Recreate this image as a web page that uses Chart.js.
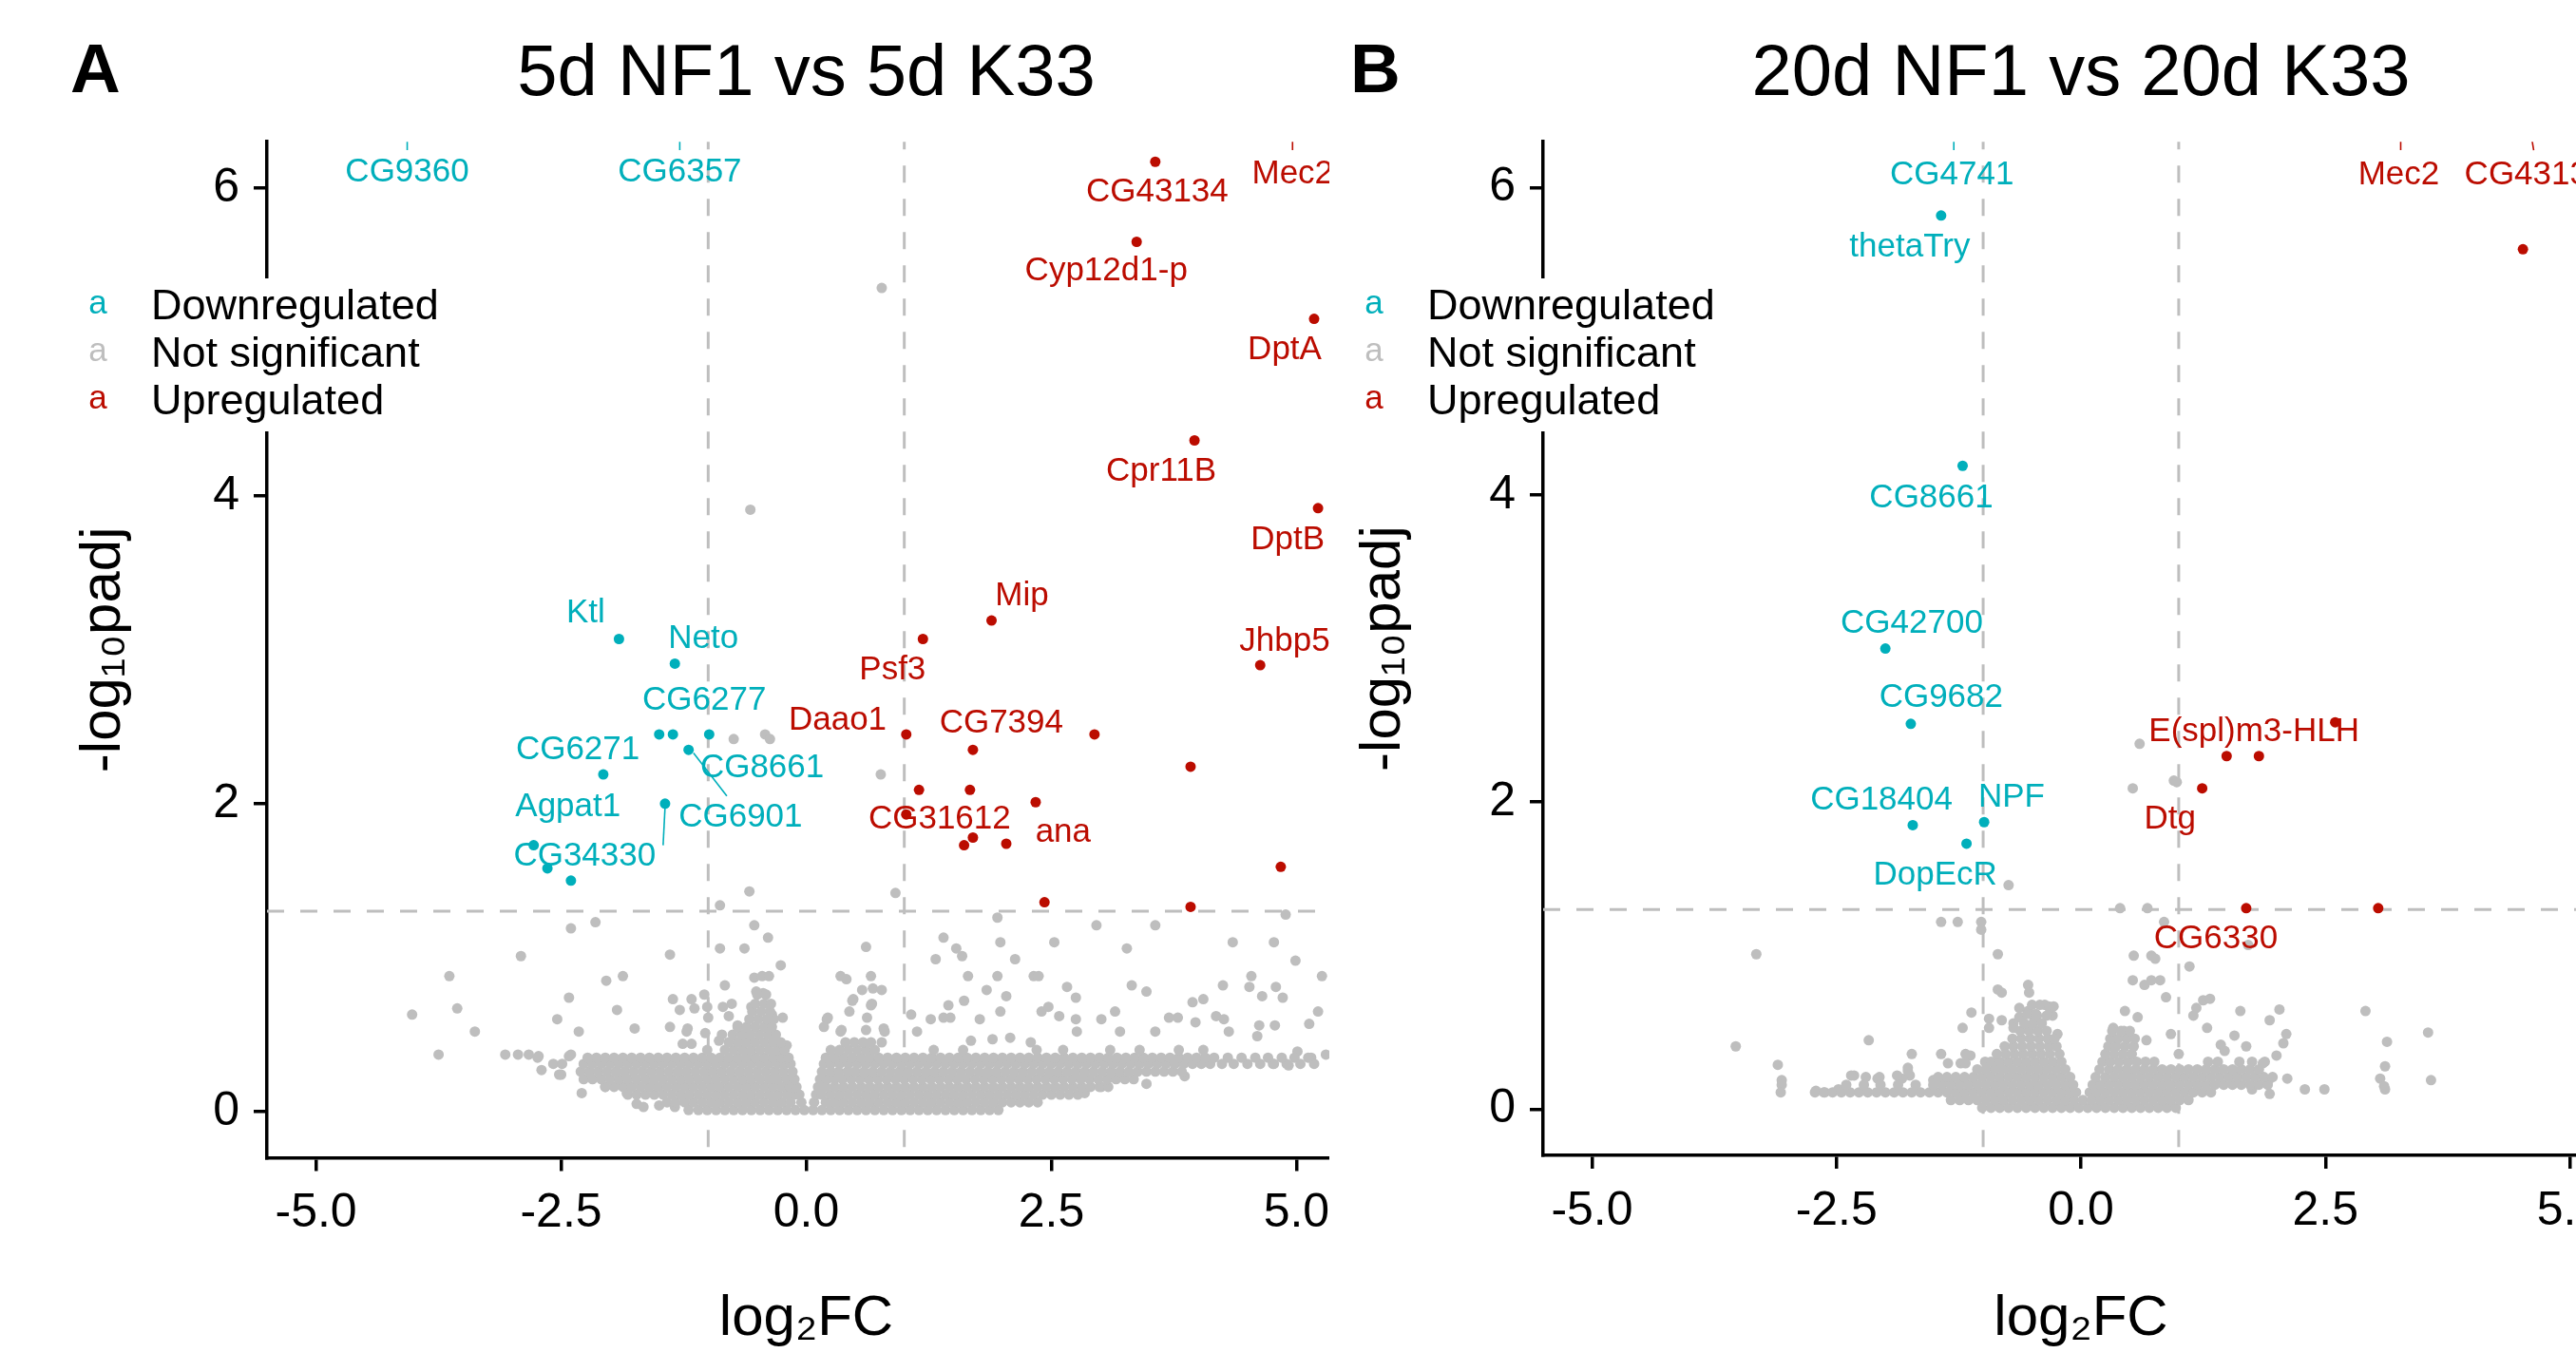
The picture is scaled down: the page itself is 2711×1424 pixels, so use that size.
<!DOCTYPE html>
<html><head><meta charset="utf-8">
<script src="https://cdn.jsdelivr.net/npm/chart.js@4.4.1/dist/chart.umd.min.js"></script>
<style>
html,body{margin:0;padding:0;background:#fff;}
body{width:2711px;height:1424px;position:relative;overflow:hidden;}
.panel{position:absolute;top:0;height:1424px;overflow:hidden;}
#wa{left:0;width:1399px;}
#wb{left:1399px;width:1312px;}
canvas{display:block;}
</style></head><body>
<div class="panel" id="wa"><canvas id="ca" width="1445" height="1424" style="width:1445px;height:1424px"></canvas></div>
<div class="panel" id="wb"><canvas id="cb" width="1390" height="1424" style="width:1390px;height:1424px"></canvas></div>
<script>
// ---------- shared axis / category data ----------
const categories = ['Downregulated', 'Not significant', 'Upregulated'];
const xTickValues = [-5, -2.5, 0, 2.5, 5];
const xTickLabels = ['-5.0', '-2.5', '0.0', '2.5', '5.0'];
const yTickValues = [0, 2, 4, 6];
const yTickLabels = ['0', '2', '4', '6'];
const fcCutoffs = [-1, 1];
const padjCutoff = 1.30103;

// ---------- panel A : 5d NF1 vs 5d K33 ----------
const aDown = [[-1.91,3.07],[-1.34,2.91],[-1.50,2.45],[-1.36,2.45],[-0.99,2.45],[-1.20,2.35],[-2.07,2.19],[-1.44,2.00],[-2.78,1.73],[-2.64,1.58],[-2.40,1.50]];
const aUp = [[3.56,6.17],[3.37,5.65],[5.18,5.15],[3.96,4.36],[5.22,3.92],[1.89,3.19],[1.19,3.07],[4.63,2.90],[1.02,2.45],[1.70,2.35],[2.94,2.45],[3.92,2.24],[1.15,2.09],[1.67,2.09],[2.34,2.01],[1.02,1.93],[1.70,1.78],[1.61,1.73],[2.04,1.74],[4.84,1.59],[2.43,1.36],[3.92,1.33]];
const aNsScatter = [[0.77,5.35],[-0.57,3.91],[-0.74,2.42],[-0.42,2.45],[-0.37,2.42],[0.76,2.19],[0.91,1.42],[-0.58,1.43],[-0.88,1.34],
[-2.40,1.19],[-2.15,1.23],[-0.53,1.21],[-0.39,1.13],[-2.91,1.01],[-1.39,1.02],[-0.88,1.06],[-0.63,1.06],[-0.26,0.95],[-3.64,0.88],[-1.87,0.88],[-2.04,0.85],[-0.83,0.82],[-0.53,0.87],[-0.45,0.88],[-0.38,0.88],[-2.42,0.74],[-3.56,0.67],[-1.93,0.66],[-4.02,0.63],[-2.54,0.60],[-1.36,0.73],[-1.17,0.73],[-1.04,0.76],[-1.01,0.68],[-0.85,0.68],[-0.76,0.70],[-3.38,0.52],[-2.32,0.52],[-1.75,0.54],[-1.39,0.55],[-1.21,0.54],[-1.29,0.66],[-3.75,0.37],[-3.07,0.37],[-2.94,0.37],[-2.83,0.37],[-2.73,0.36],[-2.40,0.37],[-2.70,0.27],[-2.58,0.31],[-2.49,0.31],[-2.50,0.24],[-2.29,0.12],[-1.73,0.05],[-1.50,0.04],[-0.56,0.68],[-0.35,0.63],[-0.24,0.61],[-0.20,0.43],[-0.51,0.78],[-0.44,0.77],
[-1.14,0.67],[-1.22,0.52],[-1.03,0.51],[-1.00,0.61],[-1.26,0.44],[-1.17,0.44],[-0.89,0.46],[-0.79,0.62],[-0.70,0.56],[-0.86,0.50],[-1.83,0.12],[-2.05,0.16],[-1.34,0.03],[-1.20,0.01],[-1.66,0.03],[-2.74,0.35],[-2.42,0.36],[-2.52,0.24],
[1.95,1.26],[2.96,1.21],[3.56,1.21],[4.89,1.28],[1.40,1.13],[0.61,1.07],[1.53,1.06],[1.59,1.01],[1.32,0.99],[1.98,1.10],[2.13,0.99],[2.53,1.10],[3.27,1.06],[4.35,1.10],[4.77,1.10],[4.99,0.98],[0.35,0.88],[0.41,0.86],[0.66,0.88],[1.65,0.88],[1.95,0.88],[2.32,0.88],[2.37,0.88],[4.54,0.88],[5.26,0.88],[0.48,0.73],[0.57,0.79],[0.68,0.80],[0.77,0.79],[1.84,0.79],[2.04,0.75],[1.61,0.72],[1.45,0.69],[2.66,0.81],[2.75,0.74],[3.32,0.82],[3.47,0.78],[4.25,0.82],[4.52,0.81],[4.65,0.75],[4.79,0.81],[4.86,0.74],[3.94,0.71],[4.05,0.73],[0.44,0.65],[0.67,0.70],[0.22,0.61],[0.36,0.53],[0.62,0.61],[0.79,0.54],[1.07,0.63],[1.13,0.52],[1.27,0.60],[1.40,0.61],[1.47,0.61],[1.77,0.60],[1.98,0.65],[2.40,0.65],[2.47,0.68],[2.58,0.62],[2.75,0.60],[3.01,0.60],[3.15,0.65],[3.70,0.61],[3.79,0.61],[3.97,0.58],[4.18,0.62],[4.26,0.60],[4.62,0.56],[4.78,0.56],[5.13,0.57],[5.22,0.65],[3.56,0.52],[3.20,0.52],[2.76,0.52],[4.31,0.52],[4.60,0.49],[2.08,0.48],[1.68,0.46],[1.90,0.47],[2.29,0.45],[5.01,0.39],[5.15,0.35],[5.30,0.37],[4.92,0.30],[4.76,0.31],[3.86,0.23],[3.47,0.18],[2.84,0.12],[3.01,0.16],[0.47,0.72],[0.66,0.69],[0.61,0.53],[0.80,0.52],[0.77,0.45],[0.21,0.60],[0.18,0.55],[0.35,0.52]];
// dense core of non-significant genes, read row by row (y, then x positions)
const aNsCore = [
 {y:0.01, x:[-1.10,-1.01,-0.92,-0.83,-0.74,-0.65,-0.56,-0.47,-0.38,-0.29,-0.20,-0.11,-0.02,0.07,0.16,0.25,0.34,0.43,0.52,0.61,0.70,0.79,0.88,0.97,1.06,1.15,1.24,1.33,1.42,1.51,1.60,1.69,1.78,1.87,1.96]},
 {y:0.06, x:[-1.42,-1.33,-1.24,-1.15,-1.06,-0.97,-0.88,-0.79,-0.70,-0.61,-0.52,-0.43,-0.34,-0.25,-0.16,-0.05,0.08,0.20,0.29,0.38,0.47,0.56,0.65,0.74,0.83,0.92,1.01,1.10,1.19,1.28,1.37,1.46,1.55,1.64,1.73,1.82,1.91,2.00,2.09,2.18,2.27,2.36]},
 {y:0.11, x:[-1.82,-1.73,-1.64,-1.55,-1.46,-1.37,-1.28,-1.19,-1.10,-1.01,-0.92,-0.83,-0.74,-0.65,-0.56,-0.47,-0.38,-0.29,-0.20,-0.12,-0.07,0.10,0.16,0.25,0.34,0.43,0.52,0.61,0.70,0.79,0.88,0.97,1.06,1.15,1.24,1.33,1.42,1.51,1.60,1.69,1.78,1.87,1.96,2.05,2.14,2.23,2.32,2.41,2.50,2.59,2.68,2.77]},
 {y:0.16, x:[-2.05,-1.96,-1.87,-1.78,-1.69,-1.60,-1.51,-1.42,-1.33,-1.24,-1.15,-1.06,-0.97,-0.88,-0.79,-0.70,-0.61,-0.52,-0.43,-0.34,-0.25,-0.17,-0.10,0.12,0.20,0.29,0.38,0.47,0.56,0.65,0.74,0.83,0.92,1.01,1.10,1.19,1.28,1.37,1.46,1.55,1.64,1.73,1.82,1.91,2.00,2.09,2.18,2.27,2.36,2.45,2.54,2.63,2.72,2.81,2.90,2.99,3.08]},
 {y:0.21, x:[-2.27,-2.18,-2.09,-2.00,-1.91,-1.82,-1.73,-1.64,-1.55,-1.46,-1.37,-1.28,-1.19,-1.10,-1.01,-0.92,-0.83,-0.74,-0.65,-0.56,-0.47,-0.38,-0.29,-0.20,-0.12,0.14,0.21,0.29,0.37,0.46,0.55,0.64,0.73,0.82,0.91,1.00,1.09,1.18,1.27,1.36,1.45,1.54,1.63,1.72,1.81,1.90,1.99,2.08,2.17,2.26,2.35,2.44,2.53,2.62,2.71,2.80,2.89,2.98,3.07,3.16,3.25,3.34]},
 {y:0.26, x:[-2.30,-2.21,-2.12,-2.03,-1.94,-1.85,-1.76,-1.67,-1.58,-1.49,-1.40,-1.31,-1.22,-1.13,-1.04,-0.95,-0.86,-0.77,-0.68,-0.59,-0.50,-0.41,-0.32,-0.23,-0.14,0.16,0.25,0.33,0.42,0.50,0.59,0.68,0.77,0.86,0.95,1.04,1.13,1.22,1.31,1.40,1.49,1.58,1.67,1.76,1.85,1.94,2.03,2.12,2.21,2.30,2.39,2.48,2.57,2.66,2.75,2.84,2.93,3.02,3.11,3.20,3.29,3.38,3.47,3.56,3.65,3.74,3.83]},
 {y:0.31, x:[-2.27,-2.18,-2.09,-2.00,-1.91,-1.82,-1.73,-1.64,-1.55,-1.46,-1.37,-1.28,-1.19,-1.10,-1.01,-0.92,-0.83,-0.74,-0.65,-0.56,-0.47,-0.38,-0.29,-0.22,-0.16,0.18,0.25,0.34,0.43,0.52,0.61,0.70,0.79,0.88,0.97,1.06,1.15,1.24,1.33,1.42,1.51,1.60,1.69,1.78,1.87,1.96,2.05,2.14,2.23,2.32,2.41,2.50,2.59,2.68,2.77,2.86,2.95,3.04,3.13,3.22,3.31,3.40,3.49,3.58,3.67,3.76,3.85,3.94,4.03,4.12,4.24,4.36,4.50,4.63,4.77,4.90,5.04,5.18]},
 {y:0.35, x:[-2.23,-2.14,-2.05,-1.96,-1.87,-1.78,-1.69,-1.60,-1.51,-1.42,-1.33,-1.24,-1.15,-1.06,-0.97,-0.88,-0.79,-0.70,-0.61,-0.52,-0.43,-0.34,-0.26,-0.18,0.20,0.29,0.38,0.47,0.56,0.65,0.74,0.83,0.92,1.01,1.10,1.19,1.28,1.37,1.46,1.55,1.64,1.73,1.82,1.91,2.00,2.09,2.18,2.27,2.36,2.45,2.54,2.63,2.72,2.81,2.90,2.99,3.08,3.17,3.26,3.35,3.44,3.53,3.62,3.71,3.80,3.89,3.98,4.07,4.16,4.30,4.44,4.58,4.71,4.85,4.98,5.12]},
 {y:0.40, x:[-1.01,-0.83,-0.74,-0.65,-0.56,-0.47,-0.38,-0.29,-0.22,0.25,0.34,0.43,0.52,0.61,0.70,1.30,1.60,2.35,2.62,3.10,3.40,3.80,4.05]},
 {y:0.45, x:[-0.79,-0.70,-0.61,-0.52,-0.43,-0.34,-0.26,0.40,0.49,0.58,0.66]},
 {y:0.50, x:[-0.75,-0.66,-0.57,-0.48,-0.39,-0.31]},
 {y:0.55, x:[-0.70,-0.61,-0.52,-0.43,-0.35]},
 {y:0.60, x:[-0.58,-0.49,-0.40,-0.33]},
 {y:0.65, x:[-0.55,-0.46,-0.37]},
 {y:0.70, x:[-0.52,-0.43,-0.36]},
 {y:0.76, x:[-0.50,-0.41]}
];
const aLabels = [['CG9360',-4.07,6.10,'d'],['CG6357',-1.29,6.10,'d'],['CG43134',3.58,5.97,'u'],['Mec2',4.96,6.09,'u'],['Cyp12d1-p',3.06,5.46,'u'],['DptA',4.88,4.95,'u'],['Cpr11B',3.62,4.16,'u'],['DptB',4.91,3.71,'u'],['Mip',2.20,3.35,'u'],['Jhbp5',4.88,3.05,'u'],['Psf3',0.88,2.87,'u'],['Daao1',0.32,2.54,'u'],['CG7394',1.99,2.52,'u'],['CG31612',1.36,1.90,'u'],['ana',2.62,1.81,'u'],['Ktl',-2.25,3.24,'d'],['Neto',-1.05,3.07,'d'],['CG6277',-1.04,2.67,'d'],['CG6271',-2.33,2.35,'d'],['CG8661',-0.45,2.23,'d'],['Agpat1',-2.43,1.98,'d'],['CG6901',-0.67,1.91,'d'],['CG34330',-2.26,1.66,'d']];
const aSegments = [[-1.15,2.33,-0.81,2.05,'d'],[-1.44,1.98,-1.46,1.73,'d'],[-4.07,6.36,-4.07,6.245,'d'],[-1.29,6.36,-1.29,6.245,'d'],[4.96,6.36,4.96,6.245,'u']];

// ---------- panel B : 20d NF1 vs 20d K33 ----------
const bDown = [[-1.43,5.82],[-1.21,4.19],[-2.00,3.00],[-1.74,2.51],[-1.72,1.85],[-0.99,1.87],[-1.17,1.73]];
const bUp = [[4.52,5.60],[2.60,2.52],[1.49,2.30],[1.82,2.30],[1.24,2.09],[1.69,1.31],[3.04,1.31]];
const bNsScatter = [[0.60,2.38],[0.53,2.09],[0.95,2.14],[0.98,2.13],[0.40,1.31],[0.68,1.31],[0.85,1.22],[1.71,1.07],[0.54,1.00],[0.72,1.00],[0.76,0.98],[1.11,0.93],[0.53,0.84],[0.65,0.81],[0.72,0.84],[0.81,0.84],[0.87,0.73],[1.25,0.71],[1.32,0.72],[1.18,0.66],[1.15,0.61],[1.63,0.64],[2.03,0.65],[1.93,0.58],[2.91,0.64],[3.55,0.50],[3.13,0.44],[3.11,0.28],[3.06,0.20],[3.11,0.13],[3.58,0.19],[2.29,0.13],[2.49,0.13],[2.10,0.49],[2.07,0.43],[2.00,0.35],[2.11,0.20],[1.57,0.48],[1.69,0.41],[1.43,0.42],[1.47,0.38],[1.29,0.53],[0.92,0.49],[0.67,0.45],[0.45,0.64],[0.58,0.60],[0.33,0.53],[0.44,0.51],[1.86,0.30],[1.93,0.10],[-0.33,0.67],[-0.29,0.61],[-0.45,0.61],[-0.24,0.49],[1.00,0.36],
[-0.74,1.46],[-3.53,0.41],[-3.32,1.01],[-3.10,0.29],[-3.06,0.19],[-3.06,0.16],[-3.07,0.11],[-2.17,0.45],[-1.73,0.36],[-1.18,0.36],[-1.43,1.22],[-1.26,1.22],[-1.02,1.22],[-1.02,1.17],[-0.85,1.01],[-0.85,0.78],[-0.54,0.81],[-0.53,0.76],[-0.32,0.66],[-1.12,0.63],[-0.94,0.59],[-0.81,0.58],[3.10,0.15],[1.59,0.22],[1.92,0.19],[1.75,0.13],[-0.81,0.76],[-0.37,0.68],[-0.54,0.64],[-0.69,0.56],[-1.43,0.36],[-1.75,0.22],[-2.32,0.22],[-2.08,0.20],[-1.83,0.20],[-1.51,0.19],[-2.48,0.13],[-2.71,0.12],[-2.62,0.11],
[-0.63,0.66],[-0.63,0.60],[-0.49,0.61],[-0.35,0.61],[-0.28,0.67],[-1.21,0.53],[-0.94,0.53],[-0.69,0.53],[-1.77,0.27],[-1.13,0.35],[-1.36,0.30],[-1.23,0.30],[-1.18,0.30],[-0.98,0.31],[-0.86,0.30],[-2.35,0.22],[-2.20,0.21],[-2.06,0.21],[-1.88,0.22],[-1.77,0.25],[-1.37,0.20],[-1.23,0.19]];
const bNsCore = [
 {y:0.01, x:[-1.01,-0.92,-0.83,-0.74,-0.65,-0.56,-0.47,-0.38,-0.29,-0.20,-0.11,-0.02,0.07,0.16,0.25,0.34,0.43,0.52,0.61,0.70,0.79,0.88,0.97]},
 {y:0.06, x:[-1.33,-1.24,-1.15,-1.06,-0.97,-0.88,-0.79,-0.70,-0.61,-0.52,-0.43,-0.34,-0.25,-0.16,-0.07,0.02,0.11,0.20,0.29,0.38,0.47,0.56,0.65,0.74,0.83,0.92,1.01,1.10]},
 {y:0.11, x:[-2.72,-2.63,-2.54,-2.45,-2.36,-2.27,-2.18,-2.09,-2.00,-1.91,-1.82,-1.73,-1.64,-1.55,-1.46,-1.37,-1.28,-1.19,-1.10,-1.01,-0.92,-0.83,-0.74,-0.65,-0.56,-0.47,-0.38,-0.29,-0.20,-0.11,-0.05,0.09,0.16,0.25,0.34,0.43,0.52,0.61,0.70,0.79,0.88,0.97,1.06,1.15,1.24,1.33]},
 {y:0.16, x:[-2.40,-2.22,-2.05,-1.87,-1.69,-1.51,-1.42,-1.33,-1.24,-1.15,-1.06,-0.97,-0.88,-0.79,-0.70,-0.61,-0.52,-0.43,-0.34,-0.25,-0.16,-0.08,0.12,0.20,0.29,0.38,0.47,0.56,0.65,0.74,0.83,0.92,1.01,1.10,1.19,1.28,1.37,1.46,1.55,1.64,1.73,1.82,1.91]},
 {y:0.21, x:[-1.46,-1.37,-1.28,-1.19,-1.10,-1.01,-0.92,-0.83,-0.74,-0.65,-0.56,-0.47,-0.38,-0.29,-0.20,-0.11,0.15,0.25,0.34,0.43,0.52,0.61,0.70,0.79,0.88,0.97,1.06,1.15,1.24,1.33,1.42,1.51,1.60,1.69,1.78,1.87,1.96]},
 {y:0.26, x:[-1.06,-0.97,-0.88,-0.79,-0.70,-0.61,-0.52,-0.43,-0.34,-0.25,-0.16,0.19,0.29,0.38,0.47,0.56,0.65,0.74,0.83,0.92,1.01,1.10,1.19,1.28,1.37,1.46,1.55,1.64,1.73,1.82]},
 {y:0.31, x:[-0.92,-0.83,-0.74,-0.65,-0.56,-0.47,-0.38,-0.29,-0.20,0.22,0.30,0.39,0.48,0.57,0.66,0.75,1.30,1.40,1.62,1.75,1.88]},
 {y:0.36, x:[-0.86,-0.77,-0.68,-0.59,-0.50,-0.41,-0.32,-0.22,0.25,0.34,0.43,0.52]},
 {y:0.41, x:[-0.78,-0.69,-0.60,-0.51,-0.42,-0.33,-0.25,0.28,0.36,0.45,0.54]},
 {y:0.46, x:[-0.70,-0.61,-0.52,-0.43,-0.34,-0.27,0.30,0.38,0.47,0.55]},
 {y:0.51, x:[-0.62,-0.53,-0.44,-0.35,0.32,0.41,0.50]},
 {y:0.56, x:[-0.58,-0.49,-0.40]},
 {y:0.62, x:[-0.55,-0.46]},
 {y:0.68, x:[-0.50,-0.42]}
];
const bLabels = [['CG4741',-1.32,6.08,'d'],['thetaTry',-1.75,5.61,'d'],['CG8661',-1.53,3.98,'d'],['CG42700',-1.73,3.16,'d'],['CG9682',-1.43,2.68,'d'],['CG18404',-2.04,2.01,'d'],['NPF',-0.71,2.03,'d'],['DopEcR',-1.49,1.52,'d'],['E(spl)m3-HLH',1.77,2.46,'u'],['Dtg',0.91,1.89,'u'],['CG6330',1.38,1.11,'u'],['Mec2',3.25,6.08,'u'],['CG43134',4.65,6.08,'u']];
const bSegments = [[-1.30,6.36,-1.30,6.245,'d'],[3.27,6.36,3.27,6.245,'u'],[4.60,6.36,4.63,6.245,'u']];

// ---------- styling ----------
const FONT = "'Liberation Sans', Arial, Helvetica, sans-serif";
const COL = {d:'#00AFBB', n:'#BEBEBE', u:'#BB0C00'};

function toPts(arr){ return arr.map(p => ({x:p[0], y:p[1]})); }
function corePts(rows){ const out=[]; rows.forEach(r => r.x.forEach(x => out.push({x:x, y:r.y}))); return out; }

const refLines = {
  id:'refLines',
  beforeDatasetsDraw(chart){
    const {ctx, chartArea:a, scales:{x, y}} = chart;
    ctx.save();
    ctx.beginPath(); ctx.rect(a.left, a.top, a.right-a.left, a.bottom-a.top); ctx.clip();
    ctx.strokeStyle = '#BEBEBE'; ctx.lineWidth = 3; ctx.setLineDash([18,17]);
    fcCutoffs.forEach(v => { const px = x.getPixelForValue(v); ctx.beginPath(); ctx.moveTo(px, a.top-10); ctx.lineTo(px, a.bottom); ctx.stroke(); });
    const py = y.getPixelForValue(padjCutoff);
    ctx.beginPath(); ctx.moveTo(a.left, py); ctx.lineTo(a.right, py); ctx.stroke();
    ctx.restore();
  }
};

const annot = {
  id:'annot',
  afterDatasetsDraw(chart, args, o){
    const {ctx, chartArea:a, scales:{x, y}} = chart;
    ctx.save();
    ctx.beginPath(); ctx.rect(a.left, a.top, a.right-a.left, a.bottom-a.top); ctx.clip();
    ctx.lineWidth = 1.6; ctx.setLineDash([]);
    o.segments.forEach(s => { ctx.strokeStyle = COL[s[4]]; ctx.beginPath(); ctx.moveTo(x.getPixelForValue(s[0]), y.getPixelForValue(s[1])); ctx.lineTo(x.getPixelForValue(s[2]), y.getPixelForValue(s[3])); ctx.stroke(); });
    ctx.font = '35px ' + FONT; ctx.textAlign = 'center'; ctx.textBaseline = 'middle';
    o.labels.forEach(l => { ctx.fillStyle = COL[l[3]]; ctx.fillText(l[0], x.getPixelForValue(l[1]), y.getPixelForValue(l[2])); });
    ctx.restore();
  },
  afterDraw(chart, args, o){
    const {ctx, chartArea:a} = chart;
    const ax = a.left;
    ctx.save();
    ctx.fillStyle = '#fff'; ctx.fillRect(ax-195, 293, 380, 161);
    const keyCols = [COL.d, COL.n, COL.u];
    categories.forEach((c, i) => {
      ctx.textAlign = 'center'; ctx.textBaseline = 'alphabetic';
      ctx.font = '35px ' + FONT; ctx.fillStyle = keyCols[i];
      ctx.fillText('a', ax-178, 330 + 50*i);
      ctx.textAlign = 'left'; ctx.font = '45px ' + FONT; ctx.fillStyle = '#000';
      ctx.fillText(c, ax-122, 336 + 50*i);
    });
    ctx.font = 'bold 73px ' + FONT; ctx.fillStyle = '#000'; ctx.textAlign = 'left'; ctx.textBaseline = 'alphabetic';
    ctx.fillText(o.tag, o.tagX, 97);
    ctx.restore();
  }
};

function makePanel(canvasId, cfg){
  const axisCommon = {
    grid:{display:true, drawOnChartArea:false, drawTicks:true, tickLength:14, color:'#000', lineWidth:3.5},
    border:{display:true, color:'#000', width:3.5}
  };
  const pt = {pointRadius:5.5, pointBorderWidth:0, pointHoverRadius:5.5};
  return new Chart(document.getElementById(canvasId), {
    type:'scatter',
    data:{ datasets:[
      Object.assign({label:categories[0], data:toPts(cfg.down), backgroundColor:COL.d, pointBackgroundColor:COL.d}, pt),
      Object.assign({label:categories[2], data:toPts(cfg.up), backgroundColor:COL.u, pointBackgroundColor:COL.u}, pt),
      Object.assign({label:categories[1], data:toPts(cfg.ns).concat(corePts(cfg.core)), backgroundColor:COL.n, pointBackgroundColor:COL.n}, pt)
    ]},
    options:{
      responsive:false, animation:false, devicePixelRatio:1, events:[],
      layout:{padding:{left:0, right:cfg.rightPad, top:0, bottom:0}},
      plugins:{
        legend:{display:false}, tooltip:{enabled:false},
        title:{display:true, text:cfg.title, fullSize:false, color:'#000', font:{family:FONT, size:76, weight:'normal'}, padding:{top:33, bottom:25}},
        annot:{labels:cfg.labels, segments:cfg.segments, tag:cfg.tag, tagX:cfg.tagX}
      },
      scales:{
        x:Object.assign({}, axisCommon, {
          type:'linear', min:-5.5, max:5.5,
          afterBuildTicks:s => { s.ticks = xTickValues.map(v => ({value:v})); },
          afterFit:s => { s.height = cfg.xAxisHeight; },
          ticks:{font:{family:FONT, size:50}, color:'#000', padding:15, maxRotation:0, autoSkip:false,
                 callback:v => xTickLabels[xTickValues.indexOf(v)]},
          title:{display:true, text:'log\u2082FC', color:'#000', font:{family:FONT, size:60}, padding:{top:0, bottom:0}}
        }),
        y:Object.assign({}, axisCommon, {
          type:'linear', min:-0.3, max:6.3,
          afterBuildTicks:s => { s.ticks = yTickValues.map(v => ({value:v})); },
          afterFit:s => { s.width = cfg.yAxisWidth; },
          ticks:{font:{family:FONT, size:50}, color:'#000', padding:15,
                 callback:v => yTickLabels[yTickValues.indexOf(v)]},
          title:{display:true, text:'-log\u2081\u2080padj', color:'#000', font:{family:FONT, size:60}, padding:{top:cfg.yTitlePad, bottom:0}}
        })
      }
    },
    plugins:[refLines, annot]
  });
}

makePanel('ca', {title:'5d NF1 vs 5d K33', tag:'A', tagX:74, down:aDown, up:aUp, ns:aNsScatter, core:aNsCore,
  labels:aLabels, segments:aSegments, yAxisWidth:281, rightPad:29, xAxisHeight:205.5, yTitlePad:73});
makePanel('cb', {title:'20d NF1 vs 20d K33', tag:'B', tagX:22, down:bDown, up:bUp, ns:bNsScatter, core:bNsCore,
  labels:bLabels, segments:bSegments, yAxisWidth:225, rightPad:33, xAxisHeight:208, yTitlePad:21});
</script>
</body></html>
